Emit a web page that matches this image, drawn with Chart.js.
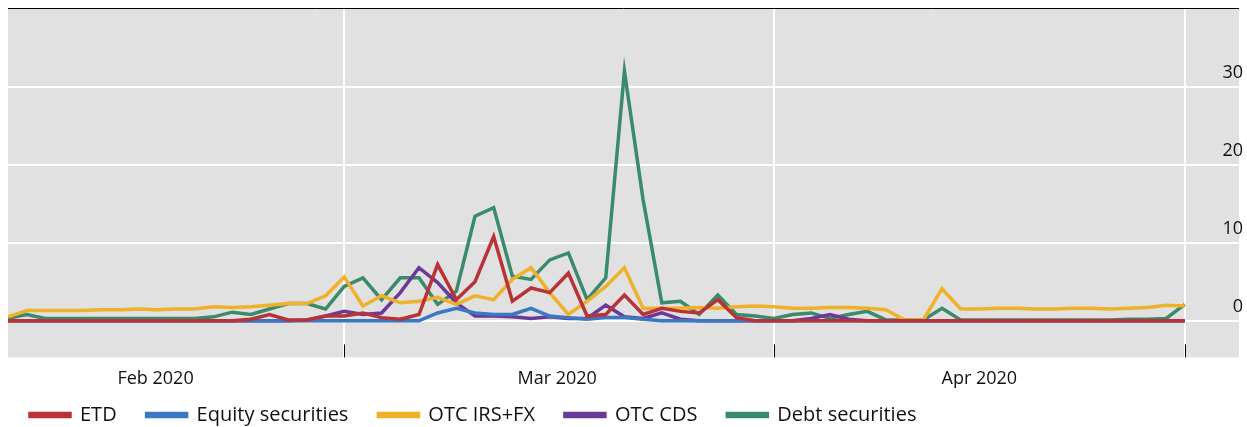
<!DOCTYPE html>
<html>
<head>
<meta charset="utf-8">
<script src="https://cdn.jsdelivr.net/npm/chart.js@4"></script>
<style>
  body { margin: 0; background: #fff; }
  #wrap { width: 1247px; height: 427px; }
</style>
</head>
<body>
<div id="wrap"><canvas id="chart"></canvas></div>
<script>
// business days, index 0..63
const days = Array.from({ length: 64 }, (_, i) => i);
const monthLabels = ['Feb 2020', 'Mar 2020', 'Apr 2020'];
const monthLabelPos = [7.9, 29.4, 52];
const monthBreaks = [18, 41, 63];
const yTicks = [0, 10, 20, 30];

const etd = [0,0,0,0,0,0,0,0,0,0,0,0,0,0.2,0.8,0.1,0.1,0.6,0.6,1.0,0.4,0.2,0.8,7.2,2.7,5.0,10.8,2.5,4.2,3.6,6.1,0.6,0.8,3.3,0.8,1.6,1.2,1.0,2.7,0.4,0,0,0,0,0,0,0,0,0,0,0,0,0,0,0,0,0,0,0,0,0,0,0,0];
const equity = [0,0,0,0,0,0,0,0,0,0,0,0,0,0,0,0,0,0,0,0,0,0,0,1.0,1.6,1.0,0.8,0.8,1.6,0.6,0.4,0.2,0.4,0.4,0.2,0,0,0,0,0,0,0,0,0,0,0,0,0,0,0,0,0,0,0,0,0,0,0,0,0,0,0,0,0];
const otcIrsFx = [0.5,1.3,1.3,1.3,1.3,1.4,1.4,1.5,1.4,1.5,1.5,1.8,1.7,1.8,2.0,2.2,2.2,3.2,5.6,1.9,3.2,2.3,2.5,3.0,2.1,3.2,2.7,5.3,6.8,3.6,0.8,2.5,4.4,6.8,1.6,1.6,1.6,1.7,1.6,1.8,1.9,1.8,1.6,1.6,1.7,1.7,1.6,1.4,0.1,0.1,4.1,1.5,1.5,1.6,1.6,1.5,1.5,1.6,1.6,1.5,1.6,1.7,2.0,1.9];
const otcCds = [0,0,0,0,0,0,0,0,0,0,0,0,0,0,0,0,0.1,0.6,1.2,0.8,1.0,3.6,6.8,4.9,2.3,0.6,0.6,0.5,0.3,0.5,0.3,0.3,2.0,0.5,0.3,1.0,0.2,0,0,0,0,0,0,0.3,0.8,0.2,0,0,0,0,0,0,0,0,0,0,0,0,0,0,0,0,0,0];
const debt = [0.3,0.8,0.3,0.3,0.3,0.3,0.3,0.3,0.3,0.3,0.3,0.5,1.1,0.8,1.5,2.2,2.2,1.5,4.4,5.5,2.7,5.5,5.5,2.1,3.8,13.4,14.5,5.7,5.3,7.8,8.7,2.7,5.5,32,15.5,2.3,2.5,0.8,3.3,0.8,0.6,0.3,0.8,1.0,0.3,0.8,1.2,0.1,0.1,0.1,1.6,0.1,0.1,0.1,0.1,0.1,0.1,0.1,0.1,0.1,0.2,0.2,0.3,2.1];

const seriesNames = ['ETD', 'Equity securities', 'OTC IRS+FX', 'OTC CDS', 'Debt securities'];
const seriesData = [etd, equity, otcIrsFx, otcCds, debt];
const seriesColors = ['#b83238', '#3b78c3', '#f0b12a', '#6b3a98', '#3a8a6c'];

const FONT = '"Open Sans", "Noto Sans", sans-serif';

function noPad(scale) {
    scale.paddingTop = 0;
    scale.paddingBottom = 0;
}

const frame = {
    id: 'frame',
    beforeDraw(chart) {
        const { ctx, chartArea: a } = chart;
        // nudge legend right and down
        if (chart.legend && !chart.legend._nudged) {
            chart.legend.left += 18;
            chart.legend.top += 8;
            chart.legend._nudged = true;
        }
        ctx.save();
        ctx.fillStyle = '#e1e1e1';
        ctx.fillRect(a.left, a.top, a.right - a.left, a.bottom - a.top);
        ctx.restore();
    },
    afterDatasetsDraw(chart) {
        const { ctx, chartArea: a, scales } = chart;
        ctx.save();
        ctx.strokeStyle = '#000';
        ctx.lineWidth = 1;
        ctx.beginPath();
        ctx.moveTo(a.left, a.top + 0.5);
        ctx.lineTo(a.right, a.top + 0.5);
        monthBreaks.forEach(function (v) {
            const x = Math.round(scales.x.getPixelForValue(v)) + 0.5;
            ctx.moveTo(x, a.bottom - 13);
            ctx.lineTo(x, a.bottom);
        });
        ctx.stroke();
        ctx.restore();
    }
};

new Chart(document.getElementById('chart'), {
    type: 'line',
    data: {
        datasets: seriesNames.map(function (name, k) {
            return {
                label: name,
                data: days.map((d, i) => ({ x: d, y: seriesData[k][i] })),
                borderColor: seriesColors[k],
                backgroundColor: seriesColors[k],
                borderWidth: 3.5,
                pointRadius: 0,
                tension: 0
            };
        })
    },
    options: {
        responsive: true,
        maintainAspectRatio: false,
        animation: false,
        layout: { padding: { left: 8, right: 0, top: 8, bottom: 0 } },
        scales: {
            x: {
                type: 'linear',
                min: 0,
                max: 65.9,
                afterBuildTicks: axis => { axis.ticks = monthBreaks.map(v => ({ value: v })); },
                grid: { color: '#fff', lineWidth: 2, drawTicks: false },
                border: { display: false },
                ticks: { display: false }
            },
            x2: {
                type: 'linear',
                position: 'bottom',
                min: 0,
                max: 65.9,
                afterBuildTicks: axis => { axis.ticks = monthLabelPos.map(v => ({ value: v })); },
                grid: { display: false },
                border: { display: false },
                ticks: {
                    padding: 3,
                    color: '#111',
                    font: { family: FONT, size: 18 },
                    maxRotation: 0,
                    callback: (v, i) => monthLabels[i]
                }
            },
            y: {
                position: 'right',
                min: -4.7,
                max: 40.1,
                afterBuildTicks: axis => { axis.ticks = yTicks.map(v => ({ value: v })); },
                afterFit: noPad,
                grid: { color: '#fff', lineWidth: 2, drawTicks: false },
                border: { display: false },
                ticks: {
                    mirror: true,
                    padding: 4,
                    labelOffset: -14,
                    color: '#111',
                    font: { family: FONT, size: 18 }
                }
            }
        },
        plugins: {
            legend: {
                position: 'bottom',
                align: 'start',
                labels: {
                    boxWidth: 40,
                    boxHeight: 3,
                    padding: 4,
                    color: '#111',
                    font: { family: FONT, size: 20 },
                    generateLabels: function (chart) {
                        const items = Chart.defaults.plugins.legend.labels.generateLabels(chart);
                        items.forEach(it => { it.text = it.text + '     '; });
                        return items;
                    }
                }
            },
            tooltip: { enabled: false }
        }
    },
    plugins: [frame]
});
</script>
</body>
</html>
